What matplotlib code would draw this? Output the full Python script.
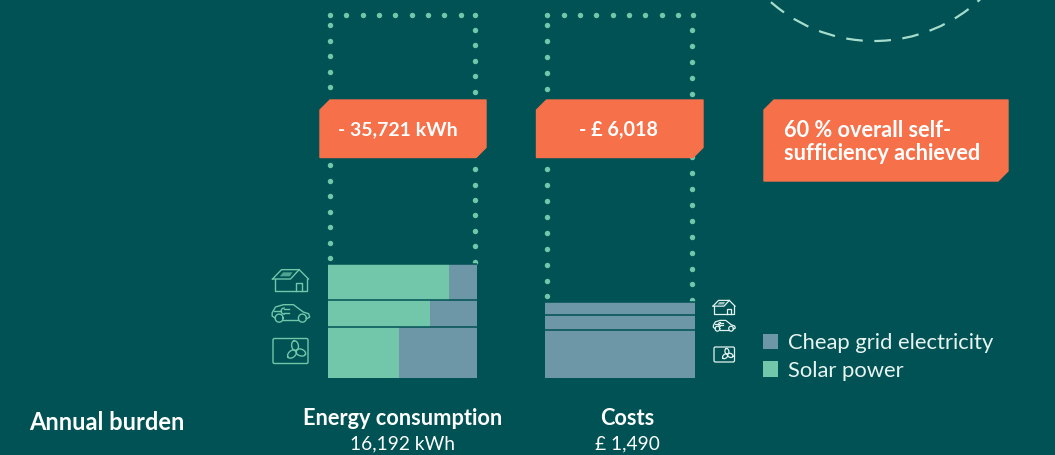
import numpy as np
import matplotlib
matplotlib.use("Agg")
import matplotlib.pyplot as plt
from matplotlib.patches import Polygon, Circle, FancyBboxPatch, Patch

plt.rcParams['font.family'] = ['Lato', 'DejaVu Sans']

# ---------- data ----------
segments = ["Air conditioning", "Car", "House"]
energy_kwh = [7340, 3800, 5052]            # bottom to top; total 16,192
solar_share = [0.478, 0.684, 0.811]
cost_gbp = [950, 280, 260]                 # total 1,490
energy_saved = 35721
cost_saved = 6018
W = 1055; H = 455
BG = "#005254"; SOLAR = "#72C6AA"; GRID = "#6D96A6"; ORANGE = "#F6704A"; WHITE = "#FFFFFF"

fig = plt.figure(figsize=(W/100, H/100), dpi=100, facecolor=BG)
ov = fig.add_axes([0, 0, 1, 1], zorder=1)
ov.set_xlim(0, W); ov.set_ylim(H, 0); ov.axis("off")
ov.patch.set_alpha(0)

def data_ax(x0, x1, y_top, y_bot):
    a = fig.add_axes([x0/W, 1-y_bot/H, (x1-x0)/W, (y_bot-y_top)/H], zorder=2)
    a.axis("off"); a.patch.set_alpha(0)
    return a

# ---------- bars ----------
a1 = data_ax(328, 477.5, 14, 378)
a1.set_xlim(0, 1); a1.set_ylim(0, sum(energy_kwh)+energy_saved)
bot = 0
for v, s in zip(energy_kwh, solar_share):
    a1.bar(0, v, width=s, bottom=bot, align="edge", color=SOLAR, linewidth=0)
    a1.bar(s, v, width=1-s, bottom=bot, align="edge", color=GRID, linewidth=0)
    bot += v
    a1.axhline(bot, color=BG, lw=1.1)

a2 = data_ax(545, 694.5, 14, 378)
a2.set_xlim(0, 1); a2.set_ylim(0, 7150)
bot = 0
for v in cost_gbp:
    a2.bar(0, v, width=1, bottom=bot, align="edge", color=GRID, linewidth=0)
    bot += v
    a2.axhline(bot, color=BG, lw=1.1)

# ---------- dotted outlines ----------
def dots(xs, ys):
    ov.plot(xs, ys, ls="none", marker="o", ms=3.9, mec="none", mfc=SOLAR, zorder=1)

dots(np.append(330+16.33*np.arange(9), 475), np.full(10, 14.5))
dots(np.full(16, 330), 25+15.55*np.arange(16))
dots(np.full(16, 475), 30+15.45*np.arange(16))
dots(np.append(547.3+16.33*np.arange(9), 692.5), np.full(10, 14.5))
dots(np.full(18, 547), 25.3+15.95*np.arange(18))
dots(np.full(18, 692.3), 30.3+15.88*np.arange(18))

# ---------- dashed circle ----------
ov.add_patch(Circle((874, -115), 156, fill=False, ec="#A6DCCB", lw=1.6,
                    ls=(3, (7.5, 5.2))))

# ---------- orange callouts ----------
def box(x0, y0, x1, y1, c=10):
    ov.add_patch(Polygon([(x0+c, y0), (x1, y0), (x1, y1-c), (x1-c, y1), (x0, y1), (x0, y0+c)],
                 closed=True, fc=ORANGE, ec=ORANGE, lw=1, joinstyle="round", zorder=3))

box(320, 100, 486, 157.5)
box(536.5, 100, 703, 157.5)
box(764, 100, 1008, 181)
ov.text(398, 130, f"- {energy_saved:,} kWh", color=WHITE, fontsize=14, fontweight="bold",
        ha="center", va="center", zorder=4)
ov.text(618.5, 130, f"- £ {cost_saved:,}", color=WHITE, fontsize=14.2, fontweight="bold",
        ha="center", va="center", zorder=4)
ov.text(783.5, 142, "60 % overall self-\nsufficiency achieved", color=WHITE, fontsize=15.7,
        fontweight="bold", ha="left", va="center", linespacing=1.16, zorder=4)

# ---------- icons ----------
def icon_house(x, y, w, h, c, lw):
    m = lambda p: (x+(p[0]-38)/108*w, y+(p[1]-42)/66*h)
    def L(pts, **k):
        q = np.array([m(p) for p in pts]); ov.plot(q[:, 0], q[:, 1], color=c, lw=lw, **k)
    L([(38, 72), (65, 44), (118, 44), (146, 72)])
    L([(38, 72), (92, 72), (118, 44)])
    L([(44, 72), (44, 108), (140, 108), (140, 72)])
    L([(108, 108), (108, 84), (126, 84), (126, 108)])
    ov.add_patch(Polygon([m(p) for p in [(60, 64), (70, 52), (98, 52), (90, 64)]], fc=c, ec="none", alpha=.7))

def icon_car(x, y, w, h, c, lw):
    m = lambda p: (x+(p[0]-34)/116*w, y+(p[1]-146)/58*h)
    def L(pts):
        q = np.array([m(p) for p in pts]); ov.plot(q[:, 0], q[:, 1], color=c, lw=lw)
    L([(46, 188), (36, 182), (36, 172), (46, 155), (70, 148), (100, 148), (130, 170), (146, 175), (149, 185), (140, 190)])
    L([(70, 194), (114, 194)])
    for cx in (57, 127):
        t = np.linspace(0, 2*np.pi, 40)
        q = np.array([m((cx+12*np.cos(a), 188+12*np.sin(a))) for a in t]); ov.plot(q[:, 0], q[:, 1], color=c, lw=lw)
    t = np.linspace(-np.pi/2, np.pi/2, 20)
    q = np.array([m((72-9*np.cos(a), 167+9*np.sin(a))) for a in t]); ov.plot(q[:, 0], q[:, 1], color=c, lw=lw)
    L([(42, 167), (63, 167)]); L([(72, 162), (88, 162)]); L([(72, 172), (88, 172)])

def icon_fan(x, y, w, h, c, lw):
    ov.add_patch(FancyBboxPatch((x+1, y+1), w-2, h-2, boxstyle="round,pad=1,rounding_size=1.5",
                                fc="none", ec=c, lw=lw))
    cx, cy = x+0.655*w, y+0.49*h
    rad = 0.29*w
    for ang in (-100, 20, 140):
        t = np.linspace(0, 2*np.pi, 50)
        a = np.radians(ang)
        ex, ey = rad*(0.5+0.5*np.cos(t)), rad*0.33*np.sin(t)
        ov.plot(cx+ex*np.cos(a)-ey*np.sin(a), cy+ex*np.sin(a)+ey*np.cos(a), color=c, lw=lw)

ICON_L = "#72C6AA"; ICON_R = "#E4F2EE"
icon_house(272.5, 269, 36, 22, ICON_L, 1)
icon_car(271.5, 304, 38.5, 19.5, ICON_L, 1)
icon_fan(273, 338.5, 35, 25, ICON_L, 1)
icon_house(713, 300, 22, 13.5, ICON_R, .9)
icon_car(713, 320, 22.5, 12, ICON_R, .9)
icon_fan(714, 347, 20.5, 15, ICON_R, .9)

# ---------- legend ----------
ov.legend(handles=[Patch(fc=GRID, ec="none", label="Cheap grid electricity"),
                   Patch(fc=SOLAR, ec="none", label="Solar power")],
          loc="upper left", bbox_to_anchor=(754.5, 324), bbox_transform=ov.transData,
          frameon=False, labelcolor="#E8F4F0", fontsize=15.8, handlelength=0.68, handleheight=0.68,
          handletextpad=0.45, labelspacing=0.36, borderpad=0.4, borderaxespad=0)

# ---------- labels ----------
ov.text(29, 423, "Annual burden", color=WHITE, fontsize=17, fontweight="bold", ha="left", va="center")
ov.text(402.5, 418.5, "Energy consumption", color=WHITE, fontsize=15.7, fontweight="bold", ha="center", va="center")
ov.text(402.5, 444, f"{sum(energy_kwh):,} kWh", color=WHITE, fontsize=13.8, ha="center", va="center")
ov.text(627.5, 418.5, "Costs", color=WHITE, fontsize=15.7, fontweight="bold", ha="center", va="center")
ov.text(627.5, 444, f"£ {sum(cost_gbp):,}", color=WHITE, fontsize=13.8, ha="center", va="center")

fig.savefig("out.png", dpi=100, facecolor=BG)
